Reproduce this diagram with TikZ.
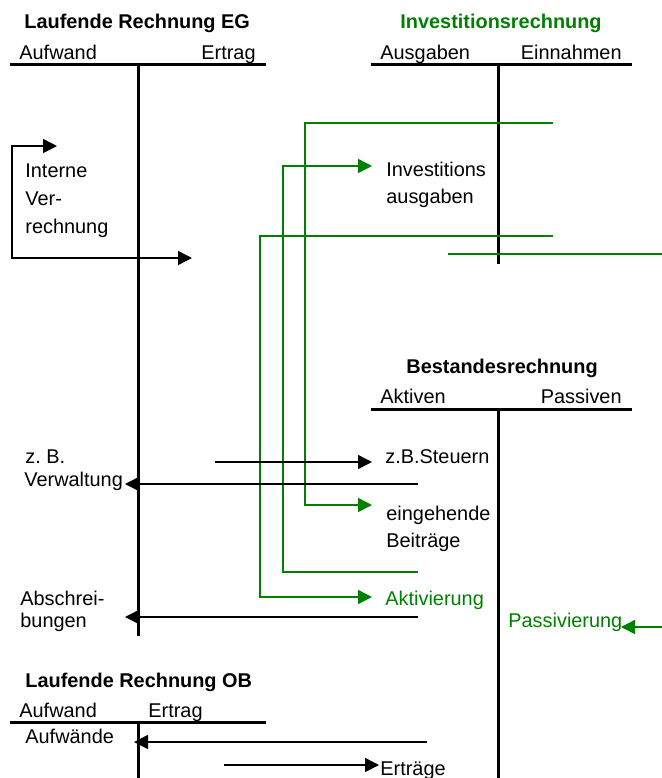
\documentclass[tikz,border=0pt]{standalone}
\usepackage{fontspec}
\setmainfont{Liberation Sans}
\usepackage{tikz}
\usetikzlibrary{arrows.meta}
\definecolor{invGreen}{RGB}{0,128,0}

\tikzset{
  lbl/.style={inner sep=0pt, anchor=base west, font=\fontsize{9.95}{11}\selectfont},
  titel/.style={lbl, font=\fontsize{9.95}{11}\selectfont\bfseries},
  konto/.style={line width=1.5pt},
  fluss/.style={line width=0.75pt, -{Triangle[length=7pt,width=7pt]}},
  gfluss/.style={fluss, invGreen},
}

\begin{document}
\begin{tikzpicture}[x=0.5pt,y=-0.5pt]
\useasboundingbox (0,0) rectangle (662,778);

% Laufende Rechnung EG
\begin{scope}[shift={(10,64)}]
\draw[konto] (0,0) -- (256,0);
\draw[konto] (128,0) -- (128,572);
\node[titel] (egTitel) at (14,-36) {Laufende Rechnung EG};
\node[lbl] (egSoll) at (9,-5) {Aufwand};
\node[lbl, anchor=base east] (egHaben) at (246,-5) {Ertrag};
\end{scope}

% Investitionsrechnung
\begin{scope}[shift={(371,64)}]
\draw[konto] (0,0) -- (261,0);
\draw[konto] (127,0) -- (127,200);
\node[titel, text=invGreen] (irTitel) at (29,-36) {Investitionsrechnung};
\node[lbl] (irSoll) at (9,-5) {Ausgaben};
\node[lbl, anchor=base east] (irHaben) at (251,-5) {Einnahmen};
\end{scope}

% Bestandesrechnung
\begin{scope}[shift={(371,409)}]
\draw[konto] (0,0) -- (261,0);
\draw[konto] (127,0) -- (127,369);
\node[titel] (brTitel) at (35,-36) {Bestandesrechnung};
\node[lbl] (brSoll) at (9,-6) {Aktiven};
\node[lbl, anchor=base east] (brHaben) at (251,-6) {Passiven};
\end{scope}

% Laufende Rechnung OB
\begin{scope}[shift={(10,722)}]
\draw[konto] (0,0) -- (256,0);
\draw[konto] (128,0) -- (128,56);
\node[titel] (obTitel) at (15,-35) {Laufende Rechnung OB};
\node[lbl] (obSoll) at (9,-5) {Aufwand};
\node[lbl] (obHaben) at (138,-5) {Ertrag};
\end{scope}

\node[lbl] (intern1) at (25,177) {Interne};
\node[lbl] (intern2) at (25,205) {Ver-};
\node[lbl] (intern3) at (25,233) {rechnung};
\node[lbl] (invAus1) at (386,176) {Investitions};
\node[lbl] (invAus2) at (386,203) {ausgaben};
\node[lbl] (zbVerw1) at (25,463) {z.\ B.};
\node[lbl] (zbVerw2) at (24,486) {Verwaltung};
\node[lbl] (steuern) at (385,463) {z.B.Steuern};
\node[lbl] (beitr1) at (386,520) {eingehende};
\node[lbl] (beitr2) at (386,547) {Beiträge};
\node[lbl] (abschr1) at (20,605) {Abschrei-};
\node[lbl] (abschr2) at (20,627) {bungen};
\node[lbl, text=invGreen] (aktiv) at (385,605) {Aktivierung};
\node[lbl, text=invGreen] (passiv) at (508,627) {Passivierung};
\node[lbl] (aufw) at (25,743) {Aufwände};
\node[lbl] (ertr) at (380,775) {Erträge};

\coordinate (ivOben) at (57,146);
\coordinate (ivEcke) at (12,258);
\coordinate (ivUnten) at (192,258);
\coordinate (gaStart) at (553,123);
\coordinate (gaEcke) at (305,505);
\coordinate (beitrIn) at (372,505);
\coordinate (gbStart) at (418,572);
\coordinate (gbEcke) at (283,166);
\coordinate (invIn) at (372,166);
\coordinate (gcStart) at (553,236);
\coordinate (gcEcke) at (260,597);
\coordinate (aktivIn) at (372,597);
\coordinate (gdStart) at (448,254);
\coordinate (gdEnde) at (662,254);
\coordinate (passivStart) at (662,627);
\coordinate (passivIn) at (621,627);
\coordinate (stStart) at (215,462);
\coordinate (stIn) at (372,462);
\coordinate (verwStart) at (418,484);
\coordinate (verwIn) at (125,484);
\coordinate (abStart) at (418,617);
\coordinate (abIn) at (125,617);
\coordinate (aufwStart) at (427,742);
\coordinate (aufwIn) at (134,742);
\coordinate (ertrStart) at (224,765);
\coordinate (ertrIn) at (379,765);

\draw[fluss, {Triangle[length=7pt,width=7pt]}-{Triangle[length=7pt,width=7pt]}]
  (ivOben) -| (ivEcke) -- (ivUnten);

\draw[gfluss] (gaStart) -| (gaEcke) -- (beitrIn);
\draw[gfluss] (gbStart) -| (gbEcke) -- (invIn);
\draw[gfluss] (gcStart) -| (gcEcke) -- (aktivIn);
\draw[invGreen, line width=0.75pt] (gdStart) -- (gdEnde);
\draw[gfluss] (passivStart) -- (passivIn);

\draw[fluss] (stStart) -- (stIn);
\draw[fluss] (verwStart) -- (verwIn);
\draw[fluss] (abStart) -- (abIn);
\draw[fluss] (aufwStart) -- (aufwIn);
\draw[fluss] (ertrStart) -- (ertrIn);
\end{tikzpicture}
\end{document}
